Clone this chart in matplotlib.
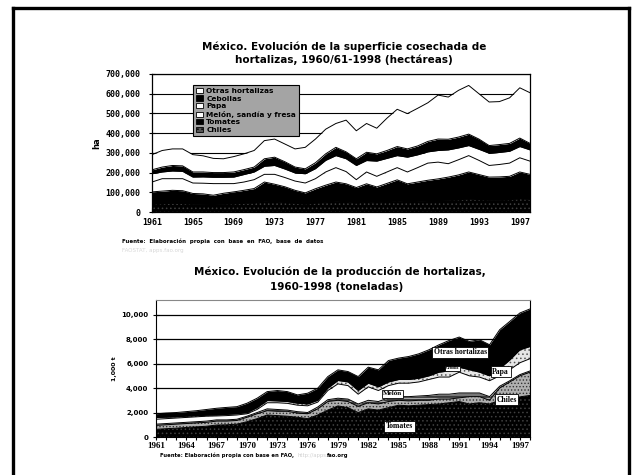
import numpy as np
import matplotlib.pyplot as plt
from matplotlib.patches import Patch
from matplotlib.lines import Line2D

plt.rcParams['hatch.linewidth'] = 0.6

anios = list(range(1961, 1999))

# superficie cosechada (miles de ha)
sup_chiles = [40, 42, 44, 43, 40, 39, 38, 40, 42, 44,
              46, 55, 52, 48, 44, 40, 45, 50, 55, 52,
              46, 52, 48, 52, 56, 52, 54, 56, 58, 60,
              62, 66, 63, 60, 60, 62, 68, 64]
sup_tomates = [62, 64, 66, 65, 54, 53, 47, 55, 60, 66,
               73, 97, 89, 80, 66, 57, 73, 86, 97, 91,
               78, 91, 79, 93, 107, 91, 98, 105, 110, 117,
               126, 137, 127, 117, 118, 119, 135, 127]
sup_melon = [50, 63, 59, 61, 53, 54, 59, 49, 42, 42,
             45, 39, 50, 47, 47, 50, 51, 67, 73, 62,
             40, 60, 54, 58, 62, 60, 73, 87, 85, 68,
             77, 83, 72, 59, 63, 67, 72, 67]
sup_papa = [42, 34, 39, 37, 30, 32, 32, 32, 33, 38,
            39, 41, 45, 43, 41, 47, 51, 59, 61, 65,
            72, 58, 77, 69, 61, 75, 65, 57, 59, 70,
            60, 51, 56, 62, 61, 60, 57, 57]
sup_cebollas = [20, 25, 28, 28, 26, 25, 24, 24, 26, 25,
                25, 38, 42, 37, 30, 25, 30, 33, 42, 35,
                34, 42, 37, 40, 46, 42, 45, 53, 58, 54,
                55, 58, 52, 39, 40, 40, 43, 33]
sup_otras = [77, 84, 84, 86, 88, 82, 72, 70, 78, 80,
             84, 92, 92, 90, 92, 109, 120, 125, 121, 161,
             142, 146, 130, 164, 189, 179, 191, 196, 223, 214,
             237, 247, 230, 221, 218, 231, 255, 257]

# produccion (miles de t)
prod_tomates = [630, 680, 720, 780, 830, 880, 980, 1000, 1050, 1250,
                1500, 1800, 1750, 1700, 1610, 1500, 1800, 2200, 2540, 2400,
                2000, 2300, 2200, 2400, 2600, 2550, 2600, 2650, 2700, 2800,
                2900, 2700, 2800, 2700, 3000, 3150, 3280, 3400]
prod_chiles = [320, 320, 330, 320, 320, 320, 320, 300, 300, 360,
               400, 350, 350, 400, 340, 400, 500, 700, 460, 500,
               500, 500, 500, 500, 400, 400, 400, 350, 400, 300,
               300, 600, 500, 300, 1000, 1350, 1720, 1900]
prod_melon = [100, 100, 100, 100, 100, 100, 100, 100, 100, 90,
              100, 150, 150, 100, 120, 100, 150, 150, 170, 200,
              200, 200, 200, 300, 300, 350, 350, 400, 400, 400,
              400, 300, 300, 300, 150, 100, 100, 100]
prod_papa = [400, 400, 400, 400, 400, 400, 320, 350, 350, 200,
             250, 500, 550, 550, 530, 550, 400, 750, 1170, 1100,
             800, 1100, 900, 1000, 1100, 1100, 1150, 1300, 1400, 1400,
             1700, 1400, 1300, 1300, 850, 900, 970, 1000]
prod_cebolla = [140, 120, 100, 100, 90, 80, 80, 100, 100, 90,
                150, 180, 150, 150, 160, 150, 150, 200, 280, 300,
                300, 300, 300, 300, 300, 300, 300, 300, 400, 500,
                400, 500, 400, 400, 600, 800, 1060, 1000]
prod_otras = [310, 340, 350, 375, 410, 470, 550, 570, 580, 770,
              770, 730, 850, 810, 680, 880, 990, 940, 870, 850,
              1140, 1310, 1390, 1750, 1750, 1880, 2000, 2130, 2240, 2490,
              2470, 2310, 2650, 2540, 3170, 3150, 3010, 3070]

W, H = 636, 475
fig = plt.figure(figsize=(6.36, 4.75), dpi=100)

def fx(px):
    return px / W

def fy(py):
    return 1 - py / H

# marco exterior
for xs, ys in [([13, 13], [H + 5, 8]), ([13, 629], [8, 8]), ([629, 629], [8, H + 5])]:
    fig.add_artist(Line2D([fx(v) for v in xs], [fy(v) for v in ys], color='black', lw=2.4))


def apilar(ax, x, series, estilos):
    base = np.zeros(len(x))
    for vals, (fc, hatch, hc) in zip(series, estilos):
        top = base + np.array(vals)
        ax.fill_between(x, base, top, facecolor=fc, hatch=hatch, edgecolor=hc, lw=0, zorder=2)
        ax.plot(x, top, color='black', lw=0.7, zorder=3)
        base = top


# ---------- grafica 1: superficie ----------
ax1 = fig.add_axes([fx(152), fy(212), fx(530) - fx(152), fy(74) - fy(212)])
sup = [np.array(s) * 1000 for s in [sup_chiles, sup_tomates, sup_melon, sup_papa, sup_cebollas, sup_otras]]
est1 = [('black', '....', '#404040'), ('black', None, 'black'), ('white', None, 'black'),
        ('white', None, 'black'), ('black', None, 'black'), ('white', None, 'black')]
apilar(ax1, anios, sup, est1)
ax1.set_xlim(1961, 1998)
ax1.set_ylim(0, 700000)
ax1.set_yticks(range(0, 700001, 100000))
ax1.set_yticklabels(['{:,}'.format(v) for v in range(0, 700001, 100000)],
                    fontsize=6, fontweight='bold', family='DejaVu Sans Mono')
ax1.set_xticks(range(1961, 1998, 4))
ax1.set_xticklabels([str(a) for a in range(1961, 1998, 4)],
                    fontsize=6, fontweight='bold', family='DejaVu Sans Mono')
ax1.tick_params(axis='y', direction='inout', length=5, width=0.8, pad=6)
ax1.tick_params(axis='x', direction='in', length=3, width=0.8, pad=4)
ax1.grid(axis='y', color='black', lw=0.8, zorder=1)
ax1.set_axisbelow(True)
for s in ax1.spines.values():
    s.set_linewidth(0.9)
ax1.set_ylabel('ha', fontsize=6, fontweight='bold', labelpad=3)

nombres1 = ['Otras hortalizas', 'Cebollas', 'Papa', 'Melón, sandía y fresa', 'Tomates', 'Chiles']
caras1 = [('white', None), ('black', None), ('white', None), ('white', None), ('black', None), ('#555555', '....')]
handles = [Patch(facecolor=c, hatch=h, edgecolor='black', lw=0.6) for c, h in caras1]
leg = ax1.legend(handles, nombres1, loc='upper left', bbox_to_anchor=(0.1, 0.945),
                 prop={'weight': 'bold', 'size': 5.3}, frameon=True, fancybox=False,
                 framealpha=1, facecolor='#a4a4a4', edgecolor='black', handlelength=1.0,
                 handleheight=0.7, labelspacing=0.2, borderpad=0.35, handletextpad=0.4)
leg.get_frame().set_linewidth(0.8)
leg.set_zorder(5)

fig.text(fx(344), fy(47), 'México. Evolución de la superficie cosechada de',
         ha='center', va='center', fontsize=7.5, fontweight='bold')
fig.text(fx(344), fy(60), 'hortalizas, 1960/61-1998 (hectáreas)',
         ha='center', va='center', fontsize=7.5, fontweight='bold')
fig.text(fx(122), fy(241), 'Fuente:  Elaboración  propia  con  base  en  FAO,  base  de  datos',
         ha='left', va='center', fontsize=4, fontweight='bold')
fig.text(fx(122), fy(251), 'FAOSTAT, apps.fao.org',
         ha='left', va='center', fontsize=4, color='#d8d8d8')

# ---------- grafica 2: produccion ----------
ax2 = fig.add_axes([fx(156), fy(437), fx(530) - fx(156), fy(300) - fy(437)])
prod = [prod_tomates, prod_chiles, prod_melon, prod_papa, prod_cebolla, prod_otras]
est2 = [('black', '....', '#404040'), ('#b0b0b0', '.....', '#333333'), ('#3a3a3a', '-----', '#cccccc'),
        ('white', None, 'black'), ('#e6e6e6', '....', '#555555'), ('black', None, 'black')]
apilar(ax2, anios, prod, est2)
ax2.set_xlim(1961, 1998)
ax2.set_ylim(0, 11200)
ax2.set_yticks(range(0, 10001, 2000))
ax2.set_yticklabels(['{:,}'.format(v) for v in range(0, 10001, 2000)], fontsize=5, fontweight='bold')
ax2.set_xticks(range(1961, 1998, 3))
ax2.set_xticklabels([str(a) for a in range(1961, 1998, 3)], fontsize=6.5, fontweight='bold',
                    family='Liberation Serif')
ax2.set_xticks(anios, minor=True)
ax2.tick_params(axis='x', which='both', direction='out', length=2.5, width=0.8, pad=1)
ax2.tick_params(axis='y', direction='inout', length=5, width=0.8, pad=3)
ax2.grid(axis='y', color='black', lw=0.9, zorder=1)
ax2.set_axisbelow(True)
ax2.spines['top'].set_color('#888888')
ax2.spines['top'].set_linestyle((0, (1, 1)))
ax2.set_ylabel('1,000 t', fontsize=4.5, fontweight='bold', labelpad=3)

etiquetas = [('Otras hortalizas', 1991.1, 6930, 5.5), ('Papa', 1995.1, 5330, 5.5),
             ('Chiles', 1995.7, 3030, 5.5), ('Melón', 1984.4, 3520, 5.0),
             ('Tomates', 1985.1, 860, 5.5), ('Cebolla', 1990.3, 5610, 3.0)]
for txt, xa, ya, fs in etiquetas:
    ax2.text(xa, ya, txt, ha='center', va='center', fontsize=fs, fontweight='bold',
             family='Liberation Serif', zorder=6,
             bbox=dict(boxstyle='square,pad=0.2', facecolor='white', edgecolor='black', lw=0.6))

fig.text(fx(340), fy(272), 'México. Evolución de la producción de hortalizas,',
         ha='center', va='center', fontsize=7.5, fontweight='bold')
fig.text(fx(337), fy(287), '1960-1998 (toneladas)',
         ha='center', va='center', fontsize=7.5, fontweight='bold')
fig.text(fx(160), fy(455), 'Fuente: Elaboración propia con base en FAO,',
         ha='left', va='center', fontsize=3.8, fontweight='bold')
fig.text(fx(297), fy(455), 'http://apps.', ha='left', va='center', fontsize=3.8, color='#d0d0d0')
fig.text(fx(327), fy(455), 'fao.org', ha='left', va='center', fontsize=3.8, fontweight='bold')

fig.savefig('out.png', dpi=100)
